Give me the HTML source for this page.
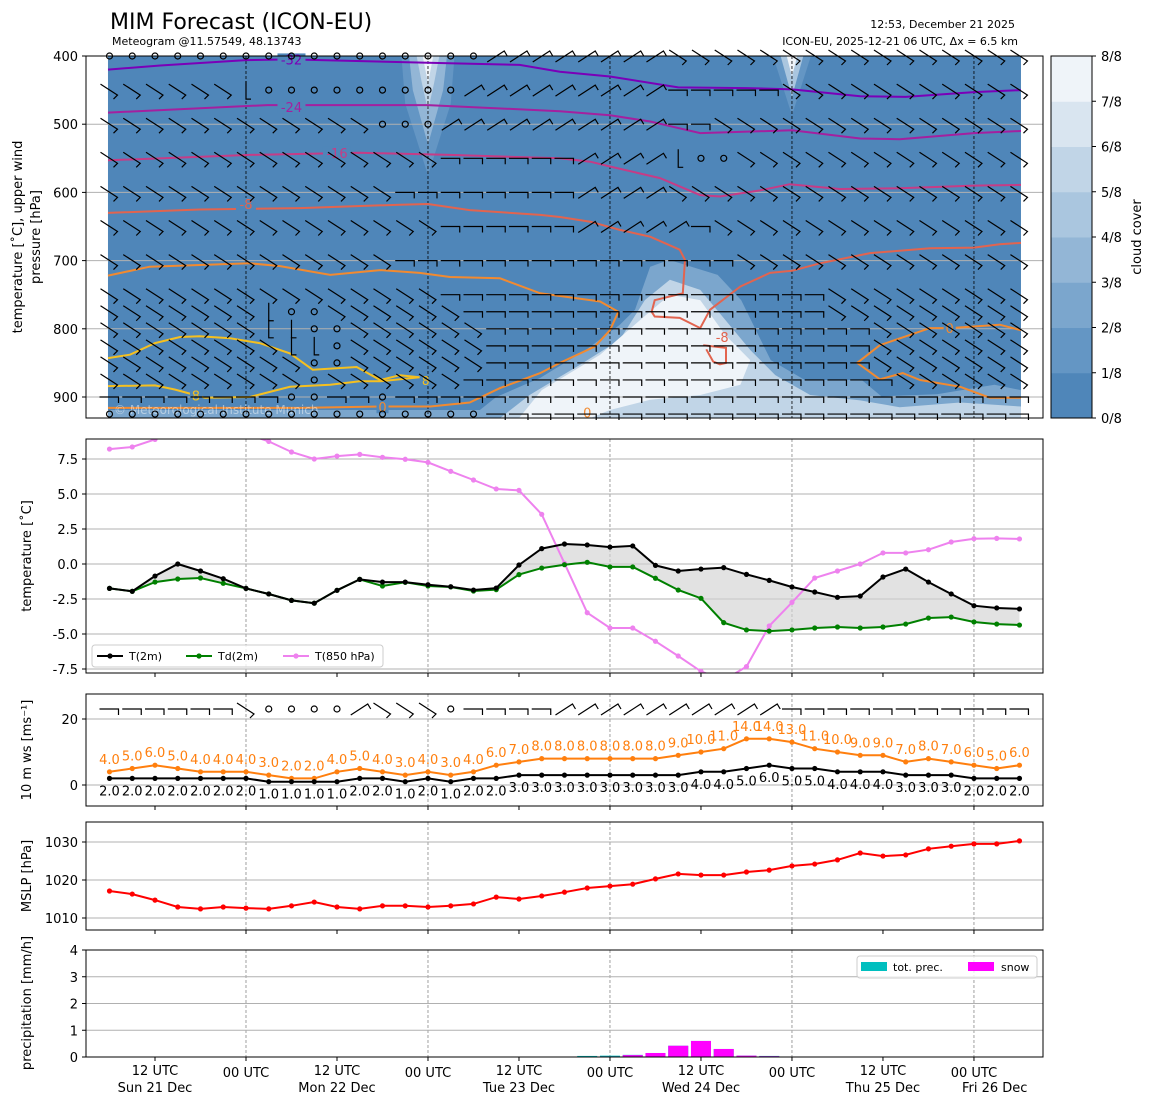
<!DOCTYPE html>
<html><head><meta charset="utf-8">
<style>
html,body{margin:0;padding:0;background:#fff;}
svg{display:block;font-family:"DejaVu Sans","Liberation Sans",sans-serif;}
</style></head>
<body>
<svg id="c" width="1155" height="1105" viewBox="0 0 1155 1105" xmlns="http://www.w3.org/2000/svg">
<text x="110" y="29" font-size="22" fill="#000">MIM Forecast (ICON-EU)</text>
<text x="112" y="45" font-size="11" fill="#000">Meteogram @11.57549, 48.13743</text>
<text x="1015" y="28" font-size="11" text-anchor="end" fill="#000">12:53, December 21 2025</text>
<text x="1018" y="45" font-size="11" text-anchor="end" fill="#000">ICON-EU, 2025-12-21 06 UTC, Δx = 6.5 km</text>
</svg>
<script>
// ---------- data ----------
const hours = Array.from({length:41},(_,i)=>i*3);
const t2m = [-1.74,-1.95,-0.86,0.0,-0.5,-1.05,-1.74,-2.14,-2.6,-2.8,-1.88,-1.1,-1.29,-1.29,-1.48,-1.62,-1.86,-1.72,-0.07,1.1,1.43,1.36,1.21,1.29,-0.1,-0.5,-0.36,-0.26,-0.74,-1.17,-1.64,-2.0,-2.38,-2.29,-0.93,-0.36,-1.29,-2.14,-2.98,-3.14,-3.21];
const td2m = [-1.74,-1.95,-1.29,-1.07,-1.0,-1.38,-1.74,-2.14,-2.6,-2.8,-1.88,-1.1,-1.57,-1.31,-1.57,-1.64,-1.93,-1.83,-0.76,-0.29,-0.05,0.12,-0.21,-0.21,-1.02,-1.86,-2.45,-4.19,-4.71,-4.79,-4.71,-4.57,-4.5,-4.57,-4.5,-4.29,-3.86,-3.79,-4.14,-4.29,-4.36];
const t850 = [8.21,8.36,8.9,9.5,9.8,9.6,9.3,8.76,8.0,7.5,7.71,7.83,7.62,7.48,7.26,6.62,6.0,5.36,5.26,3.55,0.05,-3.48,-4.57,-4.57,-5.52,-6.57,-7.67,-8.3,-7.33,-4.43,-2.74,-1.0,-0.5,0.0,0.79,0.79,1.02,1.57,1.81,1.83,1.79];
const wsMean = [2,2,2,2,2,2,2,1,1,1,1,2,2,1,2,1,2,2,3,3,3,3,3,3,3,3,4,4,5,6,5,5,4,4,4,3,3,3,2,2,2];
const wsGust = [4,5,6,5,4,4,4,3,2,2,4,5,4,3,4,3,4,6,7,8,8,8,8,8,8,9,10,11,14,14,13,11,10,9,9,7,8,7,6,5,6];
const mslp = [1017.1,1016.3,1014.7,1012.9,1012.4,1012.9,1012.6,1012.4,1013.2,1014.2,1012.9,1012.4,1013.2,1013.2,1012.9,1013.2,1013.7,1015.5,1015,1015.8,1016.8,1017.9,1018.4,1018.9,1020.3,1021.6,1021.3,1021.3,1022.1,1022.6,1023.7,1024.2,1025.3,1027.1,1026.3,1026.6,1028.2,1028.9,1029.5,1029.5,1030.3];
const precTot = [0,0,0,0,0,0,0,0,0,0,0,0,0,0,0,0,0,0,0,0,0,0.04,0.05,0.08,0.15,0.42,0.6,0.3,0.05,0.04,0,0,0,0,0,0,0,0,0,0,0];
const precSnow = [0,0,0,0,0,0,0,0,0,0,0,0,0,0,0,0,0,0,0,0,0,0.01,0.02,0.07,0.15,0.42,0.6,0.3,0.05,0.03,0,0,0,0,0,0,0,0,0,0,0];
const sfcBarbs = "wwwwwwsoooonsssowwwwnnnnnnnnnnwwwwwwwwwww";
const tTicks = [7.5,5.0,2.5,0.0,-2.5,-5.0,-7.5];
const wsTicks = [20,0];
const pTicks = [1030,1020,1010];
const prTicks = [4,3,2,1,0];
const levels = [400,450,500,550,600,650,700,750,775,800,825,850,875,900,925];
const levelTicks = [400,500,600,700,800,900];
const barbRows = [
 "ooooooooooooooooonnnnnnnnssssssssssssssss",
 "ssssssvooooooooonnnnnnnnnwwwwwsssssssssss",
 "ssssssssssssooonnnnnnnnnnwwssssssssssssss",
 "ssssssssssssssswwwwwwnnnnvoosssssssssssss",
 "ssssssssssssswwwwwwwwnnnnssssssssssssssss",
 "ssssssssssssssswwwwwwnnnnnwssssssssssssss",
 "ssssssssssssswwwwwwwwwwwwwwwsssssssssssss",
 "ssssssssssssssswwwwwwwwwwwwwwwwwsssssssss",
 "sssssssvoosssssswwwwwwwwwwwwwwwwsssssssss",
 "sssssssvvoosssssswwwwwwwwwwwwwwwwwsssssss",
 "ssssssssvvosssssswwwwwwwwwwwwwwwwwsssssss",
 "sssssssssoosssssswwwwwwwwwwwwwwwwwsssssss",
 "sssssssssosssssswwwwwwwwwwwwwwwwwwwssssss",
 "wwwwwwwwoowwowwwwwwwwwwwwwwwwwwwwwwwwwwww",
 "ooooooooooooooooowwwwwwwwwwwwwwwwwwwwwwww"];
// isotherms: time (h) and pressure (hPa)
const c32t=[-0.2,6.7,18,23.8,42,54.1,59.4,66,75,84.1,90,99,105,114,120.2];
const c32p=[420,414,406,405,410,413,423,430,446,447,449,459,460,453,450];
const c24t=[-0.2,20.8,42,59.4,66,71.3,77.9,90,99,104.2,114,120.2];
const c24p=[483,472,472,481,487,496,513,509,521,522,513,510];
const c16t=[-0.2,18.5,33,44.9,59.4,63.4,66,72.6,77.9,80.5,85.8,89.7,96.3,104.2,114,120.2];
const c16p=[553,545,542,545,550,555,562,579,604,606,597,588,595,594,590,589];
const c8t=[-0.2,11.9,25.1,38.3,42,47.5,56.8,59.4,63.4,67.3,71.3,75.2,75.9,75.6,71.9,71.5,71.9,75.2,77.9,79.2,83.2,87.1,90,93.7,100.3,108.2,114,117.4,120.2];
const c8p=[630,625,623,618,617,626,633,636,643,655,665,684,699,748,758,775,782,784,799,772,738,718,715,704,689,682,681,676,674];
const c8bt=[78.3,81.3,81.3,80.5,79.6,78.7];
const c8bp=[824,828,850,852,848,830];
const c0t=[-0.2,5.3,18.5,22.5,29.1,35.7,40.9,44.9,51.5,56.8,62.8,64.7,67.1,66,64,59.4,56.8,51.5,47.5,42.3,35.7,25.1,-0.2];
const c0p=[722,709,704,708,721,714,718,724,726,748,757,760,775,802,826,850,865,887,908,914,914,916,916];
const c0rt=[120.2,117.4,110.8,108.2,101.6,98.6,101.6,104.6,106.9,112.2,116.1,120.2];
const c0rp=[802,794,799,799,824,850,874,865,875,885,901,901];
const cp8t=[-0.2,2.7,6,9.3,11.9,15.9,19.8,23.8,26.8,32.6,35.7,38.3,40.9,35.7,33,29.1,23.8,18.5,12.6,10.6,8.6,6,-0.2];
const cp8p=[843,838,821,812,811,814,821,836,860,856,875,868,871,877,877,882,885,900,901,895,889,883,884];
// cloud cover areas (time h, pressure hPa)
const cloudOuterT=[47.5,51,56.8,62.8,67.3,69.3,71.3,73.8,80.2,83.3,87.2,91.7,99.2,101.8,109.1,116.7,120.2,120.2];
const cloudOuterP=[931,900,872,831,794,772,709,699,721,758,846,875,875,899,896,882,890,931];
const cloudMidT=[51.5,55.4,62,67.3,70.6,73.9,77.9,81.2,84.5,87.8,92.4,99,104.2,112.2,120.2,120.2];
const cloudMidP=[931,897,853,816,758,728,743,787,831,868,897,905,915,908,914,931];
const cloudCoreT=[54,57,64.7,70,73.9,77.9,81.2,84.5,83.2,77.9,71.3,66,63.4];
const cloudCoreP=[931,890,838,787,750,758,809,846,882,897,904,919,931];

// ---------- scales ----------
const svg=document.getElementById('c');
const NS='http://www.w3.org/2000/svg';
const X=t=>109.5+t*7.583;
const PY=p=>56+(p-400)*0.682;
const TY=v=>564-v*14;
const WY=v=>785-v*3.3;
const MY=v=>842+(1030-v)*3.8;
const RY=v=>1057-v*26.75;
function el(tag,attrs,parent){const e=document.createElementNS(NS,tag);for(const k in attrs)e.setAttribute(k,attrs[k]);(parent||svg).appendChild(e);return e;}
function txt(x,y,s,attrs,parent){const e=el('text',Object.assign({x:x,y:y},attrs||{}),parent);e.textContent=s;return e;}
const L=86,R=1043;
const panels=[[56,418],[439,673],[694,806],[822,930],[950,1057]];
const midn=[18,42,66,90,114], noon=[6,30,54,78,102];

// ---------- panel 1: upper air ----------
const g1=el('g',{});


const bg=el('rect',{x:X(-0.2),y:56,width:X(120.2)-X(-0.2),height:362,fill:'#4f86b9'},g1);


function poly(ts,ps,fill,name){const pts=ts.map((t,i)=>X(t)+','+PY(ps[i])).join(' ');const e=el('polygon',{points:pts,fill:fill},g1);return e;}
poly([-0.2,50,50,-0.2],[919,919,931,931],'#7ba6cd','cloud-low-strip');
poly([38.5,45.5,45,42,39],[400,400,470,575,470],'#6496c4','cloud-column-a1');
poly([39.5,44.5,44,42,40],[400,400,450,530,450],'#93b6d6','cloud-column-a2');
poly([40.5,43.5,42.8,42,41.2],[400,400,440,480,440],'#c1d5e7','cloud-column-a3');
poly([41.3,42.7,42],[400,400,440],'#eff4f9','cloud-column-a4');
poly([87.5,92.5,90],[400,400,487],'#6496c4','cloud-column-b1');
poly([88.5,91.5,90],[400,400,460],'#aac6df','cloud-column-b2');
poly([89.3,90.7,90],[400,400,430],'#eff4f9','cloud-column-b3');
poly(cloudOuterT,cloudOuterP,'#7ba6cd','cloud-low-outer');
poly(cloudMidT,cloudMidP,'#c1d5e7','cloud-low-mid');
poly(cloudCoreT,cloudCoreP,'#eff4f9','cloud-low-core');
// grid
levelTicks.forEach(p=>{if(p>400){const l=el('line',{x1:L,x2:R,y1:PY(p),y2:PY(p),stroke:'#b0b0b0','stroke-width':1},g1);}});
midn.forEach(t=>{const l=el('line',{x1:X(t),x2:X(t),y1:56,y2:418,stroke:'#000','stroke-width':0.8,'stroke-dasharray':'3,2'},g1);});
// isotherms
function contour(ts,ps,col,name,close){const d=ts.map((t,i)=>(i?'L':'M')+X(t).toFixed(1)+' '+PY(ps[i]).toFixed(1)).join(' ')+(close?' Z':'');const e=el('path',{d:d,fill:'none',stroke:col,'stroke-width':2},g1);}
contour(c32t,c32p,'#7a00b8','isotherm-minus32');
contour(c24t,c24p,'#a4209f','isotherm-minus24');
contour(c16t,c16p,'#c63c86','isotherm-minus16');
contour(c8t,c8p,'#e2644f','isotherm-minus8');
contour(c8bt,c8bp,'#e2644f','isotherm-minus8-loop');
contour(c0t,c0p,'#f28a30','isotherm-0');
contour(c0rt,c0rp,'#f28a30','isotherm-0-right');
contour(cp8t,cp8p,'#f5c020','isotherm-8');
function clabel(t,p,s,col){const w=s.length*8+4;const r=el('rect',{x:X(t)-w/2,y:PY(p)-6,width:w,height:12,fill:'#4f86b9'},g1);const e=txt(X(t),PY(p)+5,s,{'font-size':13,fill:col,'text-anchor':'middle'},g1);}
clabel(24,405,'-32','#7a00b8');clabel(24,475,'-24','#a4209f');clabel(30,542,'-16','#c63c86');
clabel(18,617,'-8','#e2644f');clabel(36,915,'0','#f28a30');clabel(110.8,799,'0','#f28a30');clabel(11.4,898,'8','#f5c020');
{const e=txt(X(80.8),PY(812)+5,'-8',{'font-size':13,fill:'#e2644f','text-anchor':'middle'},g1);}
{const e=txt(X(41.7),PY(875)+5,'8',{'font-size':12,fill:'#f5c020','text-anchor':'middle'},g1);}
{const e=txt(X(63),PY(923)+5,'0',{'font-size':13,fill:'#f28a30','text-anchor':'middle'},g1);}
{const e=txt(114,414,'© Meteorological Institute Munich',{'font-size':12,fill:'#ffffff','fill-opacity':0.45},g1);}
// barbs
function barb(x,y,c,parent,name){
  let d;
  if(c==='o'){const e=el('circle',{cx:x,cy:y,r:3,fill:'none',stroke:'#000','stroke-width':1.2},parent);return;}
  if(c==='w')d=`M${x-10} ${y} L${x+9} ${y} L${x+9} ${y+6}`;
  else if(c==='s')d=`M${x-9} ${y-6} L${x+8} ${y+5} L${x+4} ${y+9}`;
  else if(c==='n')d=`M${x-9} ${y+6} L${x+8} ${y-5} L${x+11} ${y}`;
  else d=`M${x} ${y-9} L${x} ${y+9} L${x+5} ${y+9}`;
  const e=el('path',{d:d,fill:'none',stroke:'#000','stroke-width':1.2},parent);
  
  
}
levels.forEach((p,li)=>{const row=barbRows[li];hours.forEach((h,i)=>{const c=row[Math.min(i,row.length-1)];barb(X(h),PY(p),c,g1,'upper-wind-barb');});});
// frame
{const f=el('rect',{x:L,y:56,width:R-L,height:362,fill:'none',stroke:'#000','stroke-width':1},g1);}
levelTicks.forEach(p=>{const l=el('line',{x1:L-4,x2:L,y1:PY(p),y2:PY(p),stroke:'#000'});const e=txt(L-8,PY(p)+5,String(p),{'font-size':13,'text-anchor':'end'});});
{const e=txt(0,0,'temperature [˚C], upper wind',{'font-size':13,'text-anchor':'middle',transform:'translate(22,237) rotate(-90)'});}
{const e=txt(0,0,'pressure [hPa]',{'font-size':13,'text-anchor':'middle',transform:'translate(40,237) rotate(-90)'});}
// colorbar
const cbCols=['#4f86b9','#6496c4','#7ba6cd','#93b6d6','#aac6df','#c1d5e7','#d9e5f0','#eff4f9'];
const cbLabels=['0/8','1/8','2/8','3/8','4/8','5/8','6/8','7/8','8/8'];
cbCols.forEach((c,i)=>{const h=362/8;const r=el('rect',{x:1051,y:418-(i+1)*h,width:41,height:h+0.5,fill:c});});
{const f=el('rect',{x:1051,y:56,width:41,height:362,fill:'none',stroke:'#000'});}
cbLabels.forEach((s,i)=>{const y=418-i*362/8;const l=el('line',{x1:1092,x2:1096,y1:y,y2:y,stroke:'#000'});const e=txt(1101,y+5,s,{'font-size':13});});
{const e=txt(0,0,'cloud cover',{'font-size':13,'text-anchor':'middle',transform:'translate(1141,237) rotate(-90)'});}

// ---------- common lower panel helpers ----------
function panelBase(i,name){const [y0,y1]=panels[i];const g=el('g',{});
  midn.forEach(t=>{const l=el('line',{x1:X(t),x2:X(t),y1:y0,y2:y1,stroke:'#888','stroke-width':0.8,'stroke-dasharray':'3,2'},g);});
  return g;}
function frame(i,g){const [y0,y1]=panels[i];const f=el('rect',{x:L,y:y0,width:R-L,height:y1-y0,fill:'none',stroke:'#000'},g);
  midn.concat(noon).forEach(t=>{const l=el('line',{x1:X(t),x2:X(t),y1:y1,y2:y1+4,stroke:'#000'},g);});}
function yticks(g,ticks,fy,fmt){ticks.forEach(v=>{const y=fy(v);const gl=el('line',{x1:L,x2:R,y1:y,y2:y,stroke:'#b0b0b0'},g);const l=el('line',{x1:L-4,x2:L,y1:y,y2:y,stroke:'#000'},g);const e=txt(L-8,y+5,fmt(v),{'font-size':13,'text-anchor':'end'},g);});}
function ytitle(s,y,name){const e=txt(0,0,s,{'font-size':13,'text-anchor':'middle',transform:`translate(31,${y}) rotate(-90)`});}
function series(g,vals,fy,col,name){const d=vals.map((v,i)=>(i?'L':'M')+X(hours[i]).toFixed(1)+' '+fy(v).toFixed(1)).join(' ');const p=el('path',{d:d,fill:'none',stroke:col,'stroke-width':2},g);
  vals.forEach((v,i)=>{const c=el('circle',{cx:X(hours[i]),cy:fy(v),r:2.6,fill:col},g);});}

// ---------- panel 2: temperature ----------
{const g=panelBase(1,'temperature-panel');
 const clip=el('clipPath',{id:'cp2'},g);el('rect',{x:L,y:439,width:R-L,height:234},clip);
 yticks(g,tTicks,TY,v=>v.toFixed(1));
 const gi=el('g',{'clip-path':'url(#cp2)'},g);
 const up=t2m.map((v,i)=>X(hours[i])+','+TY(v)),dn=td2m.map((v,i)=>X(hours[i])+','+TY(v)).reverse();
 const f=el('polygon',{points:up.concat(dn).join(' '),fill:'#d3d3d3','fill-opacity':0.65},gi);
 series(gi,t850,TY,'#ee82ee','t850');
 series(gi,td2m,TY,'#008000','td2m');
 series(gi,t2m,TY,'#000000','t2m');
 frame(1,g);
 const lg=el('g',{},g);
 el('rect',{x:92,y:645,width:291,height:22,rx:3,fill:'#fff','fill-opacity':0.8,stroke:'#ccc'},lg);
 [['T(2m)','#000',97],['Td(2m)','#008000',186],['T(850 hPa)','#ee82ee',283]].forEach(([s,c,x])=>{const l=el('line',{x1:x,x2:x+26,y1:656,y2:656,stroke:c,'stroke-width':2},lg);el('circle',{cx:x+13,cy:656,r:2.6,fill:c},lg);const e=txt(x+32,660,s,{'font-size':11},lg);});
}
ytitle('temperature [˚C]',556,'y-axis-title-temperature');

// ---------- panel 3: wind speed ----------
{const g=panelBase(2,'wind-speed-panel');
 yticks(g,wsTicks,WY,v=>String(v));
 series(g,wsGust,WY,'#ff7f0e','ws-gust');
 series(g,wsMean,WY,'#000000','ws-mean');
 wsGust.forEach((v,i)=>{const e=txt(X(hours[i]),WY(v)-8,v.toFixed(1),{'font-size':13,fill:'#ff7f0e','text-anchor':'middle'},g);});
 wsMean.forEach((v,i)=>{const e=txt(X(hours[i]),WY(v)+17,v.toFixed(1),{'font-size':13,fill:'#000','text-anchor':'middle'},g);});
 hours.forEach((h,i)=>barb(X(h),709,sfcBarbs[i],g,'surface-wind-barb'));
 frame(2,g);}
ytitle('10 m ws [ms⁻¹]',750,'y-axis-title-wind');

// ---------- panel 4: MSLP ----------
{const g=panelBase(3,'mslp-panel');
 yticks(g,pTicks,MY,v=>String(v));
 series(g,mslp,MY,'#ff0000','mslp');
 frame(3,g);}
ytitle('MSLP [hPa]',876,'y-axis-title-mslp');

// ---------- panel 5: precipitation ----------
{const g=panelBase(4,'precipitation-panel');
 yticks(g,prTicks,RY,v=>String(v));
 precTot.forEach((v,i)=>{if(v>0){const r=el('rect',{x:X(hours[i])-10,y:RY(v),width:20,height:RY(0)-RY(v),fill:'#00bfbf'},g);}});
 precSnow.forEach((v,i)=>{if(v>0){const r=el('rect',{x:X(hours[i])-10,y:RY(v),width:20,height:RY(0)-RY(v),fill:'#ff00ff'},g);}});
 frame(4,g);
 const lg=el('g',{},g);
 el('rect',{x:857,y:956,width:180,height:22,rx:3,fill:'#fff','fill-opacity':0.8,stroke:'#ccc'},lg);
 el('rect',{x:861,y:962,width:26,height:9,fill:'#00bfbf'},lg);
 {const e=txt(893,971,'tot. prec.',{'font-size':11},lg);}
 el('rect',{x:968,y:962,width:26,height:9,fill:'#ff00ff'},lg);
 {const e=txt(1001,971,'snow',{'font-size':11},lg);}
}
ytitle('precipitation [mm/h]',1003,'y-axis-title-precip');

// ---------- x labels ----------
const dayLabels=['Sun 21 Dec','Mon 22 Dec','Tue 23 Dec','Wed 24 Dec','Thu 25 Dec','Fri 26 Dec'];
noon.forEach((t,i)=>{const e=txt(X(t),1075,'12 UTC',{'font-size':13,'text-anchor':'middle'});const d=txt(X(t),1092,dayLabels[i],{'font-size':13,'text-anchor':'middle'});});
midn.forEach(t=>{const e=txt(X(t),1077,'00 UTC',{'font-size':13,'text-anchor':'middle'});});
{const d=txt(X(114),1092,dayLabels[5],{'font-size':13,'text-anchor':'start','dx':-12});}
</script>
</body></html>
